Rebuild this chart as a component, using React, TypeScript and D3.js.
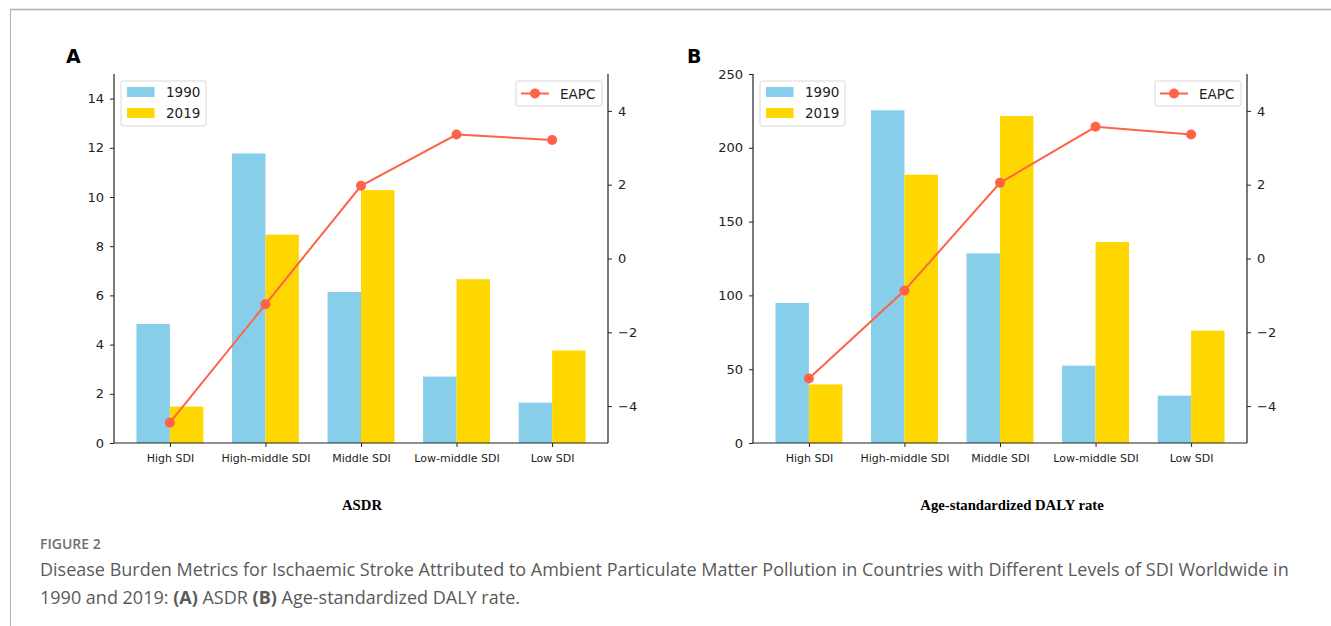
import React, { useRef, useEffect } from 'react';
import * as d3 from 'd3';

// Data
const categories = ['High SDI', 'High-middle SDI', 'Middle SDI', 'Low-middle SDI', 'Low SDI'];

const asdr1990 = [4.84, 11.77, 6.14, 2.7, 1.64];
const asdr2019 = [1.48, 8.47, 10.28, 6.66, 3.76];
const asdrEapc = [-4.45, -1.24, 1.97, 3.36, 3.21];

const daly1990 = [94.9, 225.4, 128.5, 52.4, 32.1];
const daly2019 = [39.7, 181.8, 221.5, 136.2, 76.1];
const dalyEapc = [-3.25, -0.87, 2.05, 3.57, 3.36];

const asdrTicks = [0, 2, 4, 6, 8, 10, 12, 14];
const dalyTicks = [0, 50, 100, 150, 200, 250];
const eapcTicks = [-4, -2, 0, 2, 4];

const COLOR_1990 = '#87CEEB';
const COLOR_2019 = '#FFD700';
const COLOR_EAPC = '#FF6347';

interface PanelProps {
  left: number;
  letter: string;
  letterX: number;
  title: string;
  titleX: number;
  v1990: number[];
  v2019: number[];
  eapc: number[];
  yMax: number;
  yTicks: number[];
}

const top = 74;
const bottom = 443;
const plotWidth = 494;
const barWidth = 0.35;

function Panel({ left, letter, letterX, title, titleX, v1990, v2019, eapc, yMax, yTicks }: PanelProps) {
  const gRef = useRef<SVGGElement>(null);

  useEffect(() => {
    const g = d3.select(gRef.current);
    g.selectAll('*').remove();

    // Scales (matplotlib-like default margins)
    const x = d3.scaleLinear().domain([-0.585, 4.585]).range([0, plotWidth]);
    const y = d3.scaleLinear().domain([0, yMax]).range([bottom - top, 0]);
    const y2 = d3.scaleLinear().domain([-5, 5]).range([bottom - top, 0]);
    const h = bottom - top;

    // Bars
    g.append('g')
      .selectAll('rect')
      .data(v1990)
      .join('rect')
      .attr('x', (_d, i) => x(i - barWidth))
      .attr('y', (d) => y(d))
      .attr('width', x(barWidth) - x(0))
      .attr('height', (d) => h - y(d))
      .attr('fill', COLOR_1990);

    g.append('g')
      .selectAll('rect')
      .data(v2019)
      .join('rect')
      .attr('x', (_d, i) => x(i))
      .attr('y', (d) => y(d))
      .attr('width', x(barWidth) - x(0))
      .attr('height', (d) => h - y(d))
      .attr('fill', COLOR_2019);

    // EAPC line
    const line = d3
      .line<number>()
      .x((_d, i) => x(i))
      .y((d) => y2(d));

    g.append('path')
      .datum(eapc)
      .attr('d', line)
      .attr('fill', 'none')
      .attr('stroke', COLOR_EAPC)
      .attr('stroke-width', 2);

    g.append('g')
      .selectAll('circle')
      .data(eapc)
      .join('circle')
      .attr('cx', (_d, i) => x(i))
      .attr('cy', (d) => y2(d))
      .attr('r', 5)
      .attr('fill', COLOR_EAPC);

    // Axes
    const styleAxis = (sel: any, size: number) => {
      sel.select('.domain').remove();
      sel.selectAll('line').attr('stroke', '#222').attr('stroke-width', 1);
      sel
        .selectAll('text')
        .attr('fill', '#222')
        .style('font-family', 'DejaVu Sans, sans-serif')
        .style('font-size', `${size}px`);
    };

    const yAxis = d3.axisLeft(y).tickValues(yTicks).tickSize(4).tickPadding(6);
    g.append('g').call(yAxis).call((s) => styleAxis(s, 13));

    const y2Axis = d3.axisRight(y2).tickValues(eapcTicks).tickSize(4).tickPadding(6);
    g.append('g')
      .attr('transform', `translate(${plotWidth},0)`)
      .call(y2Axis)
      .call((s) => styleAxis(s, 13));

    const xAxis = d3
      .axisBottom(x)
      .tickValues(d3.range(categories.length))
      .tickFormat((d) => categories[d as number])
      .tickSize(4)
      .tickPadding(7);
    g.append('g')
      .attr('transform', `translate(0,${h})`)
      .call(xAxis)
      .call((s) => styleAxis(s, 11));

    // Spines
    const spines = g.append('g').attr('stroke', '#222').attr('stroke-width', 1.2).attr('fill', 'none');
    spines.append('line').attr('x1', 0).attr('x2', 0).attr('y1', 0).attr('y2', h);
    spines.append('line').attr('x1', plotWidth).attr('x2', plotWidth).attr('y1', 0).attr('y2', h);
    spines.append('line').attr('x1', 0).attr('x2', plotWidth).attr('y1', h).attr('y2', h);
  }, [v1990, v2019, eapc, yMax, yTicks]);

  const legendFont = { fontFamily: 'DejaVu Sans, sans-serif', fontSize: 13.5, fill: '#222' };

  return (
    <g>
      <text x={letterX} y={63} style={{ fontFamily: 'DejaVu Sans, sans-serif', fontWeight: 'bold', fontSize: 19 }}>
        {letter}
      </text>
      <g ref={gRef} transform={`translate(${left},${top})`} />
      {/* bar legend */}
      <g transform={`translate(${left + 7},${top + 7})`}>
        <rect x={0} y={0} width={85} height={45} rx={2} fill="#fff" fillOpacity={0.8} stroke="#d8d8d8" />
        <rect x={6} y={6} width={27.5} height={10} fill={COLOR_1990} />
        <rect x={6} y={27} width={27.5} height={10} fill={COLOR_2019} />
        <text x={45} y={16} style={legendFont}>1990</text>
        <text x={45} y={37} style={legendFont}>2019</text>
      </g>
      {/* line legend */}
      <g transform={`translate(${left + plotWidth - 92},${top + 7})`}>
        <rect x={0} y={0} width={86} height={25} rx={2} fill="#fff" fillOpacity={0.8} stroke="#d8d8d8" />
        <line x1={5} x2={33} y1={12.5} y2={12.5} stroke={COLOR_EAPC} strokeWidth={2} />
        <circle cx={19} cy={12.5} r={5} fill={COLOR_EAPC} />
        <text x={44} y={17.5} style={legendFont}>EAPC</text>
      </g>
      <text
        x={titleX}
        y={510}
        textAnchor="middle"
        style={{ fontFamily: 'Liberation Serif, serif', fontWeight: 'bold', fontSize: 14.7 }}
      >
        {title}
      </text>
    </g>
  );
}

export default function App() {
  const captionFont = { fontFamily: 'Open Sans, sans-serif', fill: '#5a5a5a' };
  return (
    <svg width={1331} height={626} style={{ position: 'absolute', left: 0, top: 0, background: '#fff' }}>
      <line x1={10} x2={1331} y1={9.5} y2={9.5} stroke="#b0b0b0" strokeWidth={1.5} />
      <line x1={10.5} x2={10.5} y1={9} y2={626} stroke="#b0b0b0" strokeWidth={1} />
      <Panel
        left={114}
        letter="A"
        letterX={66}
        title="ASDR"
        titleX={362}
        v1990={asdr1990}
        v2019={asdr2019}
        eapc={asdrEapc}
        yMax={15}
        yTicks={asdrTicks}
      />
      <Panel
        left={753}
        letter="B"
        letterX={687}
        title="Age-standardized DALY rate"
        titleX={1012}
        v1990={daly1990}
        v2019={daly2019}
        eapc={dalyEapc}
        yMax={250}
        yTicks={dalyTicks}
      />
      <text x={40} y={549} style={{ ...captionFont, fontSize: 14, fontWeight: 600, fill: '#707070' }}>
        FIGURE 2
      </text>
      <text x={40} y={576} style={{ ...captionFont, fontSize: 18 }}>
        Disease Burden Metrics for Ischaemic Stroke Attributed to Ambient Particulate Matter Pollution in Countries with Different Levels of SDI Worldwide in
      </text>
      <text x={40} y={604} style={{ ...captionFont, fontSize: 18 }}>
        1990 and 2019: <tspan fontWeight="bold">(A)</tspan> ASDR <tspan fontWeight="bold">(B)</tspan> Age-standardized DALY rate.
      </text>
    </svg>
  );
}
